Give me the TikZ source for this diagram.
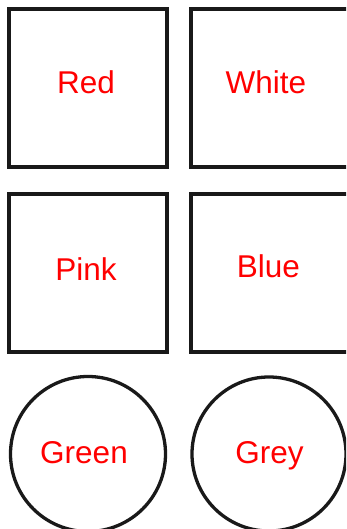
\documentclass[tikz,border=0pt]{standalone}
\usepackage{fontspec}
\setmainfont{Liberation Sans}
\begin{document}
\begin{tikzpicture}[x=1pt,y=-1pt,
  shapeline/.style={draw=black!90, line width=3.3pt},
  lbl/.style={text=red, font=\fontsize{31.5}{37}\selectfont, anchor=base, inner sep=0pt}]
\useasboundingbox (0,0) rectangle (346,529);
\clip (0,0) rectangle (346,529);
\fill[white] (0,0) rectangle (346,529);
\draw[shapeline] (9,9) rectangle (167,167);
\draw[shapeline] (191,9) rectangle (360,167);
\draw[shapeline] (9,194) rectangle (167,352);
\draw[shapeline] (191,194) rectangle (360,352);
\draw[shapeline] (88,454) circle[radius=77.5];
\draw[shapeline] (269,454) circle[radius=77];
\node[lbl] (red) at (86,94) {Red};
\node[lbl] (white) at (266,94) {White};
\node[lbl] (pink) at (86,280) {Pink};
\node[lbl] (blue) at (268.5,277) {Blue};
\node[lbl] (green) at (84,463) {Green};
\node[lbl] (grey) at (269.5,463) {Grey};
\end{tikzpicture}
\end{document}
